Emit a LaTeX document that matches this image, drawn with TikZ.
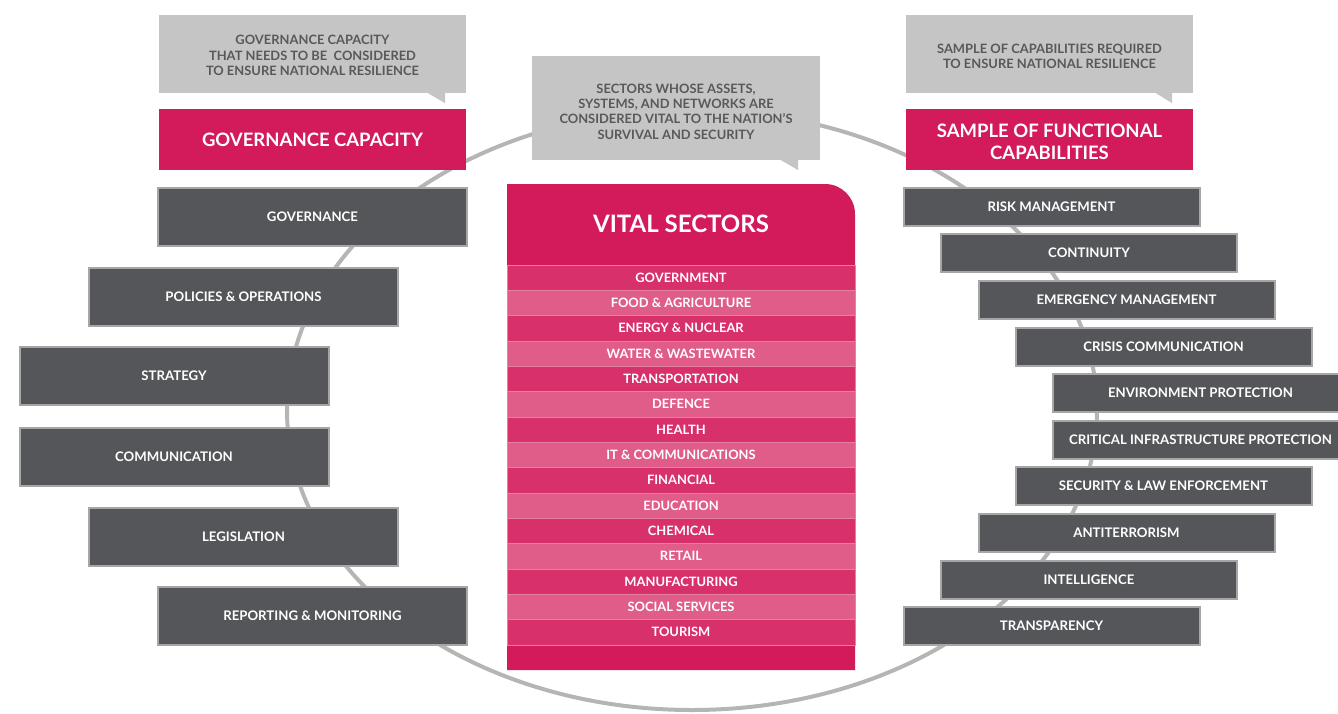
\documentclass[tikz,border=0pt]{standalone}
\usepackage{fontspec}
\setmainfont{Lato}
\definecolor{magentamain}{HTML}{D31A5B}
\definecolor{rowdark}{HTML}{D8306A}
\definecolor{rowlight}{HTML}{E05D8A}
\definecolor{rowline}{HTML}{E67FA2}
\definecolor{boxgray}{HTML}{55565A}
\definecolor{boxedge}{HTML}{A6A6A6}
\definecolor{bubblegray}{HTML}{C6C5C6}
\definecolor{bubbletext}{HTML}{58595B}
\definecolor{ringgray}{HTML}{B5B5B5}
\begin{document}
\begin{tikzpicture}[x=1pt,y=-1pt,
  ring/.style={draw=ringgray, line width=4pt},
  gbox/.style={rectangle, fill=boxgray, draw=boxedge, line width=2pt, text=white,
    inner sep=0pt, font=\fontsize{13.2}{15}\selectfont\bfseries},
  lbox/.style={gbox, minimum width=309pt, minimum height=58pt},
  rbox/.style={gbox, minimum width=296pt, minimum height=38pt},
  header/.style={rectangle, fill=magentamain, inner sep=0pt},
  headtext/.style={text=white, inner sep=0pt, align=center,
    font=\fontsize{18.5}{22}\selectfont\bfseries},
  bubble/.style={rectangle, fill=bubblegray, inner sep=0pt},
  bubtext/.style={text=bubbletext, inner sep=0pt, align=center,
    font=\fontsize{12.9}{15.3}\selectfont\bfseries},
  sector/.style={rectangle, draw=rowline, line width=0.7pt, text=white, inner sep=0pt,
    minimum width=348pt, minimum height=25.33pt, font=\fontsize{12.9}{15}\selectfont\bfseries}
]
\useasboundingbox (0,0) rectangle (1338,713);
\clip (0,0) rectangle (1338,713);

% background ring linking the three columns
\draw[ring] (692,410) ellipse [x radius=405pt, y radius=300pt];

% ---- left column: governance capacity ----
\node[bubble, minimum width=307pt, minimum height=78pt] (lbub) at (312.5,54) {};
\fill[bubblegray] ([xshift=-39pt,yshift=0.5pt]lbub.south east) -- ([xshift=-21pt,yshift=0.5pt]lbub.south east)
  -- ([xshift=-21pt,yshift=-10pt]lbub.south east) -- cycle;
\node[bubtext] (lbubtext) at (312.5,55.5)
  {GOVERNANCE CAPACITY\\THAT NEEDS TO BE\ \ CONSIDERED\\TO ENSURE NATIONAL RESILIENCE};
\node[header, minimum width=307pt, minimum height=61pt] (lhead) at (312.5,139.5) {};
\node[headtext] (lheadtext) at (312.5,139.5) {GOVERNANCE CAPACITY};

\node[lbox] (gov) at (312.5,216.5) {GOVERNANCE};
\node[lbox] (pol) at (243.5,296.5) {POLICIES \& OPERATIONS};
\node[lbox] (str) at (174,376) {STRATEGY};
\node[lbox] (com) at (174,457) {COMMUNICATION};
\node[lbox] (leg) at (243.5,537) {LEGISLATION};
\node[lbox] (rep) at (312.5,615.5) {REPORTING \& MONITORING};

% ---- centre column: vital sectors ----
\node[bubble, minimum width=288pt, minimum height=104pt] (cbub) at (676,108) {};
\fill[bubblegray] ([xshift=-40pt,yshift=0.5pt]cbub.south east) -- ([xshift=-22pt,yshift=0.5pt]cbub.south east)
  -- ([xshift=-22pt,yshift=-10pt]cbub.south east) -- cycle;
\node[bubtext] (cbubtext) at (676,111.5)
  {SECTORS WHOSE ASSETS,\\SYSTEMS, AND NETWORKS ARE\\CONSIDERED VITAL TO THE NATION’S\\SURVIVAL AND SECURITY};

\fill[magentamain] (507,670) -- (507,184) -- (825,184)
  arc[start angle=90, end angle=0, radius=30pt] -- (855,670) -- cycle;
\node[text=white, font=\fontsize{24}{28}\selectfont\bfseries] (vs) at (681,224) {VITAL SECTORS};

\foreach \name/\col [count=\i] in {
  GOVERNMENT/rowdark, FOOD \& AGRICULTURE/rowlight, ENERGY \& NUCLEAR/rowdark,
  WATER \& WASTEWATER/rowlight, TRANSPORTATION/rowdark, DEFENCE/rowlight,
  HEALTH/rowdark, IT \& COMMUNICATIONS/rowlight, FINANCIAL/rowdark,
  EDUCATION/rowlight, CHEMICAL/rowdark, RETAIL/rowlight,
  MANUFACTURING/rowdark, SOCIAL SERVICES/rowlight, TOURISM/rowdark}
  \node[sector, fill=\col] (sec\i) at (681,{252.33+25.33*\i}) {\name};

% ---- right column: functional capabilities ----
\node[bubble, minimum width=287pt, minimum height=78pt] (rbub) at (1049.5,54) {};
\fill[bubblegray] ([xshift=-38pt,yshift=0.5pt]rbub.south east) -- ([xshift=-21pt,yshift=0.5pt]rbub.south east)
  -- ([xshift=-21pt,yshift=-10pt]rbub.south east) -- cycle;
\node[bubtext] (rbubtext) at (1049.5,56)
  {SAMPLE OF CAPABILITIES REQUIRED\\TO ENSURE NATIONAL RESILIENCE};
\node[header, minimum width=287pt, minimum height=61pt] (rhead) at (1049.5,139.5) {};
\node[headtext] (rheadtext) at (1049.5,141.5) {SAMPLE OF FUNCTIONAL\\CAPABILITIES};

\node[rbox] (risk)  at (1051.5,206.5) {RISK MANAGEMENT};
\node[rbox] (cont)  at (1089,252.5)   {CONTINUITY};
\node[rbox] (emer)  at (1126.5,299.5) {EMERGENCY MANAGEMENT};
\node[rbox] (cris)  at (1163.5,346.5) {CRISIS COMMUNICATION};
\node[rbox] (env)   at (1200.5,392.5) {ENVIRONMENT PROTECTION};
\node[rbox] (crit)  at (1200.5,439.5) {CRITICAL INFRASTRUCTURE PROTECTION};
\node[rbox] (secl)  at (1163.5,485.5) {SECURITY \& LAW ENFORCEMENT};
\node[rbox] (anti)  at (1126.5,532.5) {ANTITERRORISM};
\node[rbox] (intel) at (1089,579.5)   {INTELLIGENCE};
\node[rbox] (trans) at (1051.5,625.5) {TRANSPARENCY};
\end{tikzpicture}
\end{document}
